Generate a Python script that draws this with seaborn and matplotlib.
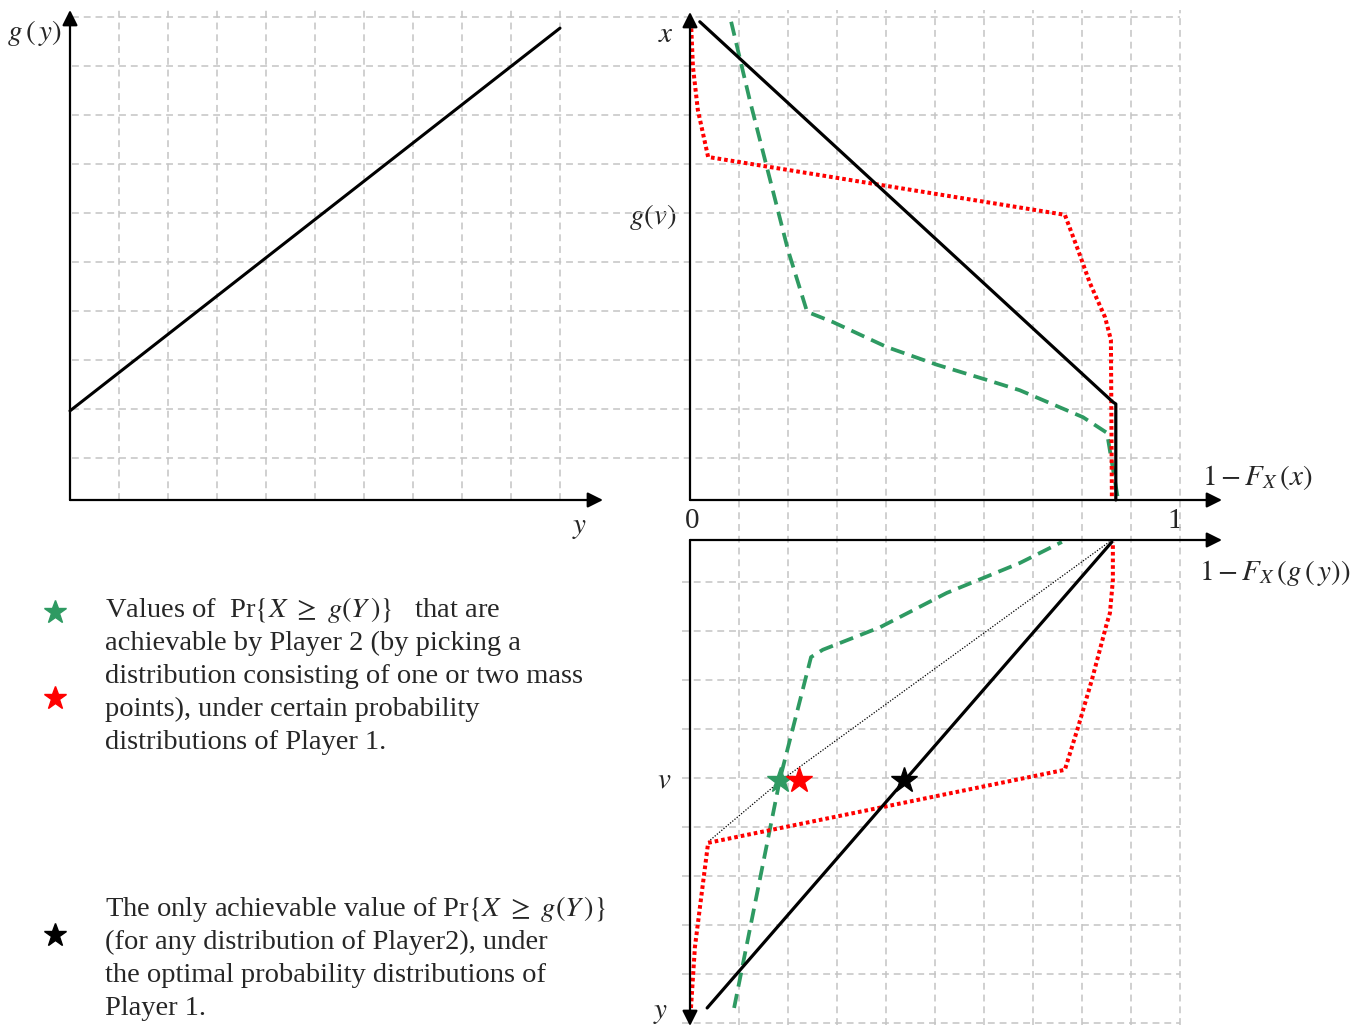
import numpy as np
import matplotlib.pyplot as plt
import seaborn as sns

sns.set_theme(style="white")
plt.rcParams['font.family'] = ['Liberation Serif', 'DejaVu Serif']
plt.rcParams['mathtext.fontset'] = 'stix'

W, H = 1357, 1027
STEP = 49  # pixels per grid square

# ---- values ----
# top-left: g(y) against y (grid units)
gy_y = [0.0, 10.0]
gy_g = [1.82, 9.63]

# top-right: horizontal 1-F_X(x), vertical x (grid units)
opt_top_p = [0.020, 0.863, 0.869, 0.869]
opt_top_x = [9.76, 2.00, 1.96, 0.00]
red_top_p = [0.002, 0.006, 0.016, 0.037, 0.765, 0.792, 0.816, 0.847, 0.859, 0.861]
red_top_x = [9.76, 8.84, 7.96, 7.00, 5.82, 5.10, 4.43, 3.73, 3.27, 0.00]
grn_top_p = [0.084, 0.122, 0.200, 0.239, 0.292, 0.402, 0.504, 0.606, 0.673, 0.802, 0.851, 0.873]
grn_top_x = [9.76, 8.16, 5.10, 3.84, 3.63, 3.12, 2.76, 2.45, 2.24, 1.69, 1.37, 0.04]

# bottom-right: horizontal 1-F_X(g(y)), vertical y (pointing down, grid units)
opt_bot_p = [0.035, 0.861]
opt_bot_y = [9.55, 0.04]
red_bot_p = [0.002, 0.010, 0.024, 0.037, 0.765, 0.792, 0.820, 0.851, 0.857, 0.863, 0.863]
red_bot_y = [9.55, 8.31, 7.20, 6.18, 4.69, 3.82, 2.86, 1.69, 1.49, 0.82, 0.04]
grn_bot_p = [0.090, 0.184, 0.247, 0.271, 0.388, 0.524, 0.673, 0.759]
grn_bot_y = [9.55, 4.86, 2.39, 2.24, 1.78, 1.08, 0.47, 0.04]
chord_p = [0.037, 0.184, 0.861]
chord_y = [6.16, 4.92, 0.00]
star_p = [0.184, 0.222, 0.437]
star_y = [4.90, 4.90, 4.90]

GREEN = '#2e9a62'
RED = '#ff0000'
GRIDC = '#c4c4c4'

fig = plt.figure(figsize=(W / 100, H / 100), dpi=100)

# background axes in pixel units, for text
bg = fig.add_axes([0, 0, 1, 1])
bg.set_xlim(0, W)
bg.set_ylim(H, 0)
bg.set_axis_off()


def panel(x0, y0, xu, yu):
    # full-figure transparent axes, data origin at pixel (x0, y0)
    ax = fig.add_axes([0, 0, 1, 1])
    ax.set_axis_off()
    ax.patch.set_alpha(0)
    ax._lims = ((0 - x0) / xu, (W - x0) / xu), ((y0 - H) / yu, y0 / yu)
    return ax


ax_tl = panel(70, 500, STEP, STEP)
ax_tr = panel(690, 500, 490, STEP)
ax_br = panel(690, 540, 490, -STEP)

gkw = dict(color=GRIDC, lw=1.1, linestyles=(0, (4.5, 3.2)), zorder=0)
rows = 6 / 7 + np.arange(10)
ax_tl.hlines(rows, 0.04, (1180 - 70) / STEP, **gkw)
ax_tl.vlines(np.arange(1, 11), 0, (500 - 10) / STEP, **gkw)
ax_tr.vlines(np.arange(1, 11) / 10, (500 - 1025) / STEP, (500 - 10) / STEP, **gkw)
ax_br.hlines(rows, -0.016, 1.0, **gkw)


def arrow(ax, start, tip):
    ax.annotate('', xy=tip, xytext=start,
                arrowprops=dict(arrowstyle='-|>,head_length=0.4,head_width=0.2',
                                lw=1.6, color='black', mutation_scale=23,
                                shrinkA=0, shrinkB=0), zorder=3)


arrow(ax_tl, (0, 0), ((603 - 70) / STEP, 0))
arrow(ax_tl, (0, 0), (0, (500 - 10) / STEP))
arrow(ax_tr, (0, 0), ((1222 - 690) / 490, 0))
arrow(ax_tr, (0, 0), (0, (500 - 12) / STEP))
arrow(ax_br, (0, 0), ((1222 - 690) / 490, 0))
arrow(ax_br, (0, 0), (0, (1026 - 540) / STEP))

lkw = dict(sort=False, estimator=None, legend=False)
sns.lineplot(x=gy_y, y=gy_g, ax=ax_tl, color='black', lw=2.2, **lkw)

sns.lineplot(x=grn_top_p, y=grn_top_x, ax=ax_tr, color=GREEN, lw=2.7,
             linestyle=(0, (3.8, 2.0)), **lkw)
sns.lineplot(x=red_top_p, y=red_top_x, ax=ax_tr, color=RED, lw=2.9,
             linestyle=(0, (0.9, 0.75)), **lkw)
sns.lineplot(x=opt_top_p, y=opt_top_x, ax=ax_tr, color='black', lw=2.3, **lkw)

sns.lineplot(x=chord_p, y=chord_y, ax=ax_br, color='black', lw=0.9,
             linestyle=(0, (1, 1.3)), **lkw)
sns.lineplot(x=grn_bot_p, y=grn_bot_y, ax=ax_br, color=GREEN, lw=2.7,
             linestyle=(0, (3.8, 2.0)), **lkw)
sns.lineplot(x=red_bot_p, y=red_bot_y, ax=ax_br, color=RED, lw=2.9,
             linestyle=(0, (0.9, 0.75)), **lkw)
sns.lineplot(x=opt_bot_p, y=opt_bot_y, ax=ax_br, color='black', lw=2.3, **lkw)

for p, y, c in zip(star_p, star_y, [GREEN, RED, 'black']):
    ax_br.plot(p, y, marker='*', ms=19, color=c, ls='none', zorder=5)

for ax in (ax_tl, ax_tr, ax_br):
    ax.set_xlim(*ax._lims[0])
    ax.set_ylim(*ax._lims[1])

# axis labels
mfs = 21
bg.text(61, 40, r'$g\,(\,y)$', fontsize=mfs, ha='right', va='baseline')
bg.text(580, 533, r'$y$', fontsize=mfs, ha='center', va='baseline')
bg.text(674, 42, r'$x$', fontsize=mfs, ha='right', va='baseline')
bg.text(676, 224, r'$g(v)$', fontsize=mfs, ha='right', va='baseline')
bg.text(1202, 485, r'$1-F_X\,(x)$', fontsize=mfs, ha='left', va='baseline')
bg.text(692, 528, '0', fontsize=mfs, ha='center', va='baseline')
bg.text(1175, 528, '1', fontsize=mfs, ha='center', va='baseline')
bg.text(1199, 580, r'$1-F_X\,(g\,(\,y))$', fontsize=mfs, ha='left', va='baseline')
bg.text(671, 787, r'$v$', fontsize=mfs, ha='right', va='baseline')
bg.text(668, 1018, r'$y$', fontsize=mfs, ha='right', va='baseline')

# legend
block1 = [r'Values of  Pr$\{X\ \geq\ g(Y\,)\}$   that are',
          'achievable by Player 2 (by picking a',
          'distribution consisting of one or two mass',
          'points), under certain probability',
          'distributions of Player 1.']
block2 = [r'The only achievable value of Pr$\{X\ \geq\ g(Y\,)\}$',
          '(for any distribution of Player2), under',
          'the optimal probability distributions of',
          'Player 1.']
tfs = 20.5
for i, line in enumerate(block1):
    bg.text(105, 617 + 33 * i, line, fontsize=tfs, ha='left', va='baseline')
for i, line in enumerate(block2):
    bg.text(105, 916 + 33 * i, line, fontsize=tfs, ha='left', va='baseline')

bg.plot([55], [612], marker='*', ms=17, color=GREEN, ls='none')
bg.plot([55], [698], marker='*', ms=17, color=RED, ls='none')
bg.plot([55], [935], marker='*', ms=17, color='black', ls='none')

fig.savefig('out.png', dpi=100)
